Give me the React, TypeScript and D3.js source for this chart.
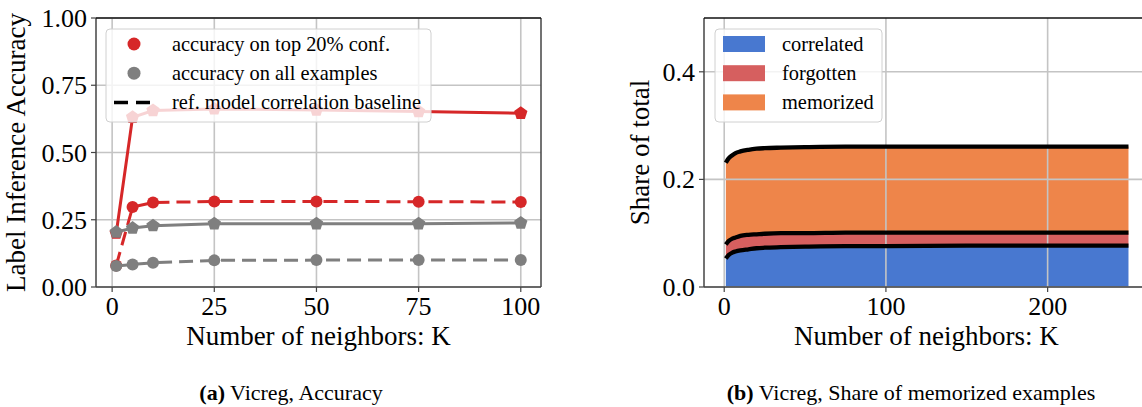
import React, { useRef, useEffect } from 'react';
import * as d3 from 'd3';

// ---- left panel: label inference accuracy vs K
const kValues = [1, 5, 10, 25, 50, 75, 100];
const top20Acc = [0.20, 0.631, 0.656, 0.662, 0.658, 0.652, 0.646];
const top20Baseline = [0.08, 0.297, 0.314, 0.318, 0.318, 0.317, 0.316];
const allAcc = [0.204, 0.219, 0.228, 0.235, 0.235, 0.235, 0.238];
const allBaseline = [0.078, 0.084, 0.090, 0.099, 0.100, 0.100, 0.100];
const accTicks = [0, 0.25, 0.5, 0.75, 1.0];
const kTicksLeft = [0, 25, 50, 75, 100];

// ---- right panel: share of memorized examples vs K
const kShare = [1, 2, 3, 5, 7, 10, 15, 20, 25, 35, 50, 75, 100, 150, 200, 250];
const correlated = [0.053, 0.057, 0.060, 0.064, 0.066, 0.068, 0.070, 0.072, 0.073, 0.074, 0.075, 0.076, 0.076, 0.077, 0.077, 0.077];
const forgotten = [0.026, 0.026, 0.026, 0.026, 0.026, 0.027, 0.027, 0.026, 0.026, 0.026, 0.025, 0.025, 0.025, 0.024, 0.024, 0.024];
const memorized = [0.152, 0.153, 0.154, 0.155, 0.157, 0.157, 0.158, 0.159, 0.159, 0.159, 0.160, 0.160, 0.160, 0.160, 0.160, 0.160];
const shareKeys = ['correlated', 'forgotten', 'memorized'];
const shareTicks = [0, 0.2, 0.4];
const kTicksRight = [0, 100, 200];

const W = 1142;
const H = 407;
const FONT = '"Liberation Serif", "Times New Roman", serif';

const colors = {
  red: '#d62728',
  gray: '#7f7f7f',
  blue: '#4878d0',
  muted_red: '#d65f5f',
  orange: '#ee854a',
  grid: '#c4c4c4',
  spine: '#444',
};

const App: React.FC = () => {
  const svgRef = useRef<SVGSVGElement | null>(null);

  useEffect(() => {
    if (!svgRef.current) return;
    const svg = d3.select(svgRef.current);
    svg.selectAll('*').remove();

    // ---------- helpers
    function drawFrame(g: any, x: any, y: any, xt: number[], yt: number[], fmt: (v: number) => string,
      left: number, right: number, top: number, bottom: number) {
      xt.forEach(t => {
        g.append('line').attr('x1', x(t)).attr('x2', x(t)).attr('y1', bottom).attr('y2', bottom + 5)
          .attr('stroke', colors.spine).attr('stroke-width', 1.2);
        g.append('text').attr('x', x(t)).attr('y', bottom + 28).attr('text-anchor', 'middle')
          .attr('font-size', 26).text(String(t));
      });
      yt.forEach(t => {
        g.append('line').attr('x1', left - 5).attr('x2', left).attr('y1', y(t)).attr('y2', y(t))
          .attr('stroke', colors.spine).attr('stroke-width', 1.2);
        g.append('text').attr('x', left - 9).attr('y', y(t) + 9).attr('text-anchor', 'end')
          .attr('font-size', 26).text(fmt(t));
      });
      // spines
      g.append('line').attr('x1', left).attr('x2', left).attr('y1', top).attr('y2', bottom)
        .attr('stroke', colors.spine).attr('stroke-width', 1.5);
      g.append('line').attr('x1', right).attr('x2', right).attr('y1', top).attr('y2', bottom)
        .attr('stroke', colors.spine).attr('stroke-width', 1.5);
      g.append('line').attr('x1', left).attr('x2', right).attr('y1', bottom).attr('y2', bottom)
        .attr('stroke', colors.spine).attr('stroke-width', 1.5);
      g.append('line').attr('x1', left).attr('x2', right).attr('y1', top).attr('y2', top)
        .attr('stroke', '#111').attr('stroke-width', 1.5);
    }

    function drawGrid(g: any, x: any, y: any, xt: number[], yt: number[], left: number, right: number, top: number, bottom: number) {
      xt.forEach(t => {
        g.append('line').attr('x1', x(t)).attr('x2', x(t)).attr('y1', top).attr('y2', bottom)
          .attr('stroke', colors.grid).attr('stroke-width', 1.6);
      });
      yt.forEach(t => {
        g.append('line').attr('x1', left).attr('x2', right).attr('y1', y(t)).attr('y2', y(t))
          .attr('stroke', colors.grid).attr('stroke-width', 1.6);
      });
    }

    const pentPath = (r: number) => {
      const pts = d3.range(5).map(i => {
        const a = -Math.PI / 2 + i * 2 * Math.PI / 5;
        return [r * Math.cos(a), r * Math.sin(a)];
      });
      return 'M' + pts.map(p => p.join(',')).join('L') + 'Z';
    };

    const root = svg.append('g').attr('font-family', FONT).attr('fill', '#000');

    // =============== LEFT PANEL
    const L = { left: 96, right: 541, top: 18, bottom: 287 };
    const xL = d3.scaleLinear().domain([-3.95, 104.95]).range([L.left, L.right]);
    const yL = d3.scaleLinear().domain([0, 1]).range([L.bottom, L.top]);
    const gL = root.append('g');

    drawGrid(gL, xL, yL, kTicksLeft, accTicks, L.left, L.right, L.top, L.bottom);

    const lineL = d3.line<number>().x((_, i) => xL(kValues[i])).y(d => yL(d));

    // red series first, gray drawn on top (as in the reference)
    const series = [
      { vals: top20Baseline, color: colors.red, dashed: true, marker: 'o' },
      { vals: top20Acc, color: colors.red, dashed: false, marker: 'p' },
      { vals: allBaseline, color: colors.gray, dashed: true, marker: 'o' },
      { vals: allAcc, color: colors.gray, dashed: false, marker: 'p' },
    ];
    series.forEach(s => {
      gL.append('path').attr('d', lineL(s.vals)).attr('fill', 'none').attr('stroke', s.color)
        .attr('stroke-width', 3).attr('stroke-dasharray', s.dashed ? '14,7' : null);
      s.vals.forEach((v, i) => {
        if (s.marker === 'o') {
          gL.append('circle').attr('cx', xL(kValues[i])).attr('cy', yL(v)).attr('r', 6).attr('fill', s.color);
        } else {
          gL.append('path').attr('d', pentPath(7))
            .attr('transform', `translate(${xL(kValues[i])},${yL(v)})`).attr('fill', s.color);
        }
      });
    });

    // legend left
    const legL = gL.append('g');
    legL.append('rect').attr('x', 106).attr('y', 29).attr('width', 325).attr('height', 93).attr('rx', 4)
      .attr('fill', 'white').attr('fill-opacity', 0.8).attr('stroke', '#d0d0d0').attr('stroke-width', 1);
    const legItemsL = [
      { label: 'accuracy on top 20% conf.', kind: 'dot', color: colors.red },
      { label: 'accuracy on all examples', kind: 'dot', color: colors.gray },
      { label: 'ref. model correlation baseline', kind: 'dash', color: '#000' },
    ];
    legItemsL.forEach((it, i) => {
      const cy = 44 + i * 29.2;
      if (it.kind === 'dot') {
        legL.append('circle').attr('cx', 134).attr('cy', cy).attr('r', 6.5).attr('fill', it.color);
      } else {
        legL.append('line').attr('x1', 114).attr('x2', 151).attr('y1', cy).attr('y2', cy)
          .attr('stroke', it.color).attr('stroke-width', 3.5).attr('stroke-dasharray', '14,8');
      }
      legL.append('text').attr('x', 172).attr('y', cy + 7).attr('font-size', 20.4).text(it.label);
    });

    drawFrame(gL, xL, yL, kTicksLeft, accTicks, d => d3.format('.2f')(d), L.left, L.right, L.top, L.bottom);

    gL.append('text').attr('transform', `translate(25,${(L.top + L.bottom) / 2}) rotate(-90)`)
      .attr('text-anchor', 'middle').attr('font-size', 27).text('Label Inference Accuracy');
    gL.append('text').attr('x', (L.left + L.right) / 2).attr('y', 345).attr('text-anchor', 'middle')
      .attr('font-size', 27).text('Number of neighbors: K');

    // =============== RIGHT PANEL
    const R = { left: 704, right: 1148.7, top: 18, bottom: 287 };
    const xR = d3.scaleLinear().domain([-12.5, 262.5]).range([R.left, R.right]);
    const yR = d3.scaleLinear().domain([0, 0.5]).range([R.bottom, R.top]);
    const gR = root.append('g');

    const table = kShare.map((k, i) => ({ k, correlated: correlated[i], forgotten: forgotten[i], memorized: memorized[i] }));
    const stack = d3.stack<any>().keys(shareKeys)(table);
    const fillFor: Record<string, string> = { correlated: colors.blue, forgotten: colors.muted_red, memorized: colors.orange };
    const area = d3.area<any>().x(d => xR(d.data.k)).y0(d => yR(d[0])).y1(d => yR(d[1])).curve(d3.curveMonotoneX);
    stack.forEach(layer => {
      gR.append('path').attr('d', area(layer)).attr('fill', fillFor[layer.key]);
    });

    drawGrid(gR, xR, yR, kTicksRight, shareTicks, R.left, R.right, R.top, R.bottom);

    const topLine = d3.line<any>().x(d => xR(d.data.k)).y(d => yR(d[1])).curve(d3.curveMonotoneX);
    stack.forEach(layer => {
      gR.append('path').attr('d', topLine(layer)).attr('fill', 'none').attr('stroke', '#000')
        .attr('stroke-width', 4.3).attr('stroke-linecap', 'butt');
    });

    // legend right
    const legR = gR.append('g');
    legR.append('rect').attr('x', 715).attr('y', 29).attr('width', 167).attr('height', 93).attr('rx', 4)
      .attr('fill', 'white').attr('fill-opacity', 0.8).attr('stroke', '#d0d0d0').attr('stroke-width', 1);
    shareKeys.forEach((key, i) => {
      const cy = 44 + i * 29.2;
      legR.append('rect').attr('x', 723).attr('y', cy - 8).attr('width', 42).attr('height', 16).attr('fill', fillFor[key]);
      legR.append('text').attr('x', 782).attr('y', cy + 7).attr('font-size', 20.4).text(key);
    });

    drawFrame(gR, xR, yR, kTicksRight, shareTicks, d => d3.format('.1f')(d), R.left, R.right, R.top, R.bottom);

    gR.append('text').attr('transform', `translate(649,${(R.top + R.bottom) / 2}) rotate(-90)`)
      .attr('text-anchor', 'middle').attr('font-size', 27).text('Share of total');
    gR.append('text').attr('x', (R.left + R.right) / 2).attr('y', 345).attr('text-anchor', 'middle')
      .attr('font-size', 27).text('Number of neighbors: K');

    // =============== captions
    const capA = root.append('text').attr('x', 291).attr('y', 400).attr('text-anchor', 'middle').attr('font-size', 22);
    capA.append('tspan').attr('font-weight', 'bold').text('(a)');
    capA.append('tspan').text(' Vicreg, Accuracy');
    const capB = root.append('text').attr('x', 911).attr('y', 400).attr('text-anchor', 'middle').attr('font-size', 22);
    capB.append('tspan').attr('font-weight', 'bold').text('(b)');
    capB.append('tspan').text(' Vicreg, Share of memorized examples');
  }, []);

  return (
    <svg ref={svgRef} width={W} height={H} style={{ position: 'absolute', left: 0, top: 0, background: 'white' }} />
  );
};

export default App;
